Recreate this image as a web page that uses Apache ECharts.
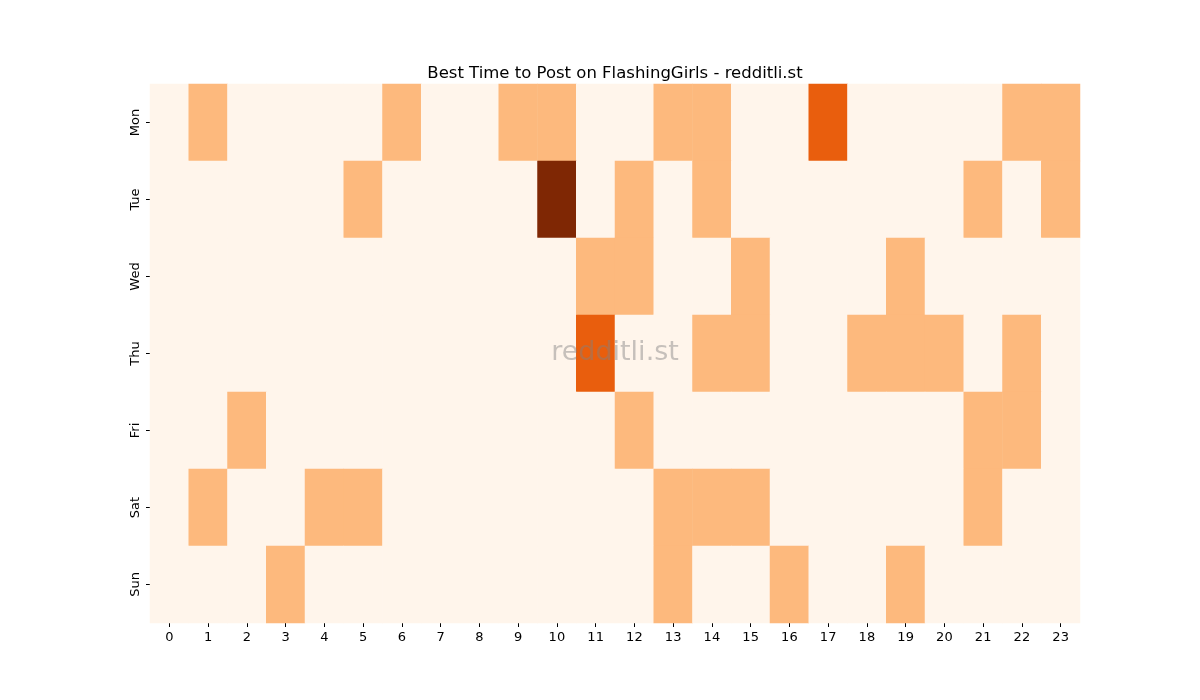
<!DOCTYPE html>
<html>
<head>
<meta charset="utf-8">
<script src="https://cdn.jsdelivr.net/npm/echarts@6/dist/echarts.min.js"></script>
<style>
  html, body { margin: 0; padding: 0; background: #fff; }
  #chart { width: 1200px; height: 700px; }
</style>
</head>
<body>
<div id="chart"></div>
<script>
// hours along the bottom, days down the side
const hours = Array.from({ length: 24 }, (_, i) => String(i))
const days = ['Mon', 'Tue', 'Wed', 'Thu', 'Fri', 'Sat', 'Sun']

// post activity per hour, one row per day
const mon = [0,1,0,0,0,0,1,0,0,1,1,0,0,1,1,0,0,2,0,0,0,0,1,1]
const tue = [0,0,0,0,0,1,0,0,0,0,3,0,1,0,1,0,0,0,0,0,0,1,0,1]
const wed = [0,0,0,0,0,0,0,0,0,0,0,1,1,0,0,1,0,0,0,1,0,0,0,0]
const thu = [0,0,0,0,0,0,0,0,0,0,0,2,0,0,1,1,0,0,1,1,1,0,1,0]
const fri = [0,0,1,0,0,0,0,0,0,0,0,0,1,0,0,0,0,0,0,0,0,1,1,0]
const sat = [0,1,0,0,1,1,0,0,0,0,0,0,0,1,1,1,0,0,0,0,0,1,0,0]
const sun = [0,0,0,1,0,0,0,0,0,0,0,0,0,1,0,0,1,0,0,1,0,0,0,0]

const rows = [mon, tue, wed, thu, fri, sat, sun]
const cells = []
rows.forEach((row, d) => row.forEach((v, h) => cells.push([h, d, v])))

const font = "'DejaVu Sans', sans-serif"
const chart = echarts.init(document.getElementById('chart'))

chart.setOption({
    animation: false,
    textStyle: { fontFamily: font },
    title: {
        text: 'Best Time to Post on FlashingGirls - redditli.st',
        left: 610,
        textAlign: 'center',
        top: 60,
        textStyle: { fontFamily: font, fontSize: 16.5, fontWeight: 'normal', color: '#000' }
    },
    grid: { left: 150, right: 120, top: 84, bottom: 77 },
    xAxis: {
        type: 'category',
        data: hours,
        axisLine: { show: false },
        axisTick: { show: true, length: 4, alignWithLabel: true, lineStyle: { color: '#000' } },
        axisLabel: { color: '#000', fontSize: 13, margin: 8, fontFamily: font },
        splitLine: { show: false }
    },
    yAxis: {
        type: 'category',
        data: days,
        inverse: true,
        axisLine: { show: false },
        axisTick: { show: true, length: 4, alignWithLabel: true, lineStyle: { color: '#000' } },
        axisLabel: { color: '#000', fontSize: 13, margin: 8, rotate: 90, fontFamily: font },
        splitLine: { show: false }
    },
    visualMap: {
        show: false,
        type: 'piecewise',
        dimension: 2,
        pieces: [
            { value: 0, color: '#fff5eb' },
            { value: 1, color: '#fdb97d' },
            { value: 2, color: '#e95e0d' },
            { value: 3, color: '#7f2704' }
        ]
    },
    series: [{
        type: 'heatmap',
        data: cells,
        itemStyle: { borderWidth: 0 },
        emphasis: { disabled: true }
    }],
    graphic: [{
        type: 'text',
        x: 615,
        y: 353,
        style: {
            text: 'redditli.st',
            align: 'center',
            verticalAlign: 'middle',
            fontFamily: font,
            fontSize: 27,
            fill: 'rgba(128,128,128,0.45)'
        },
        z: 100
    }]
})
</script>
</body>
</html>
